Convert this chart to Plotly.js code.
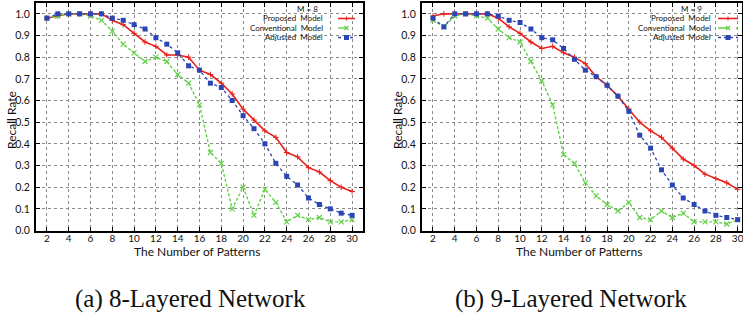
<!DOCTYPE html>
<html>
<head>
<meta charset="utf-8">
<script src="https://cdn.plot.ly/plotly-3.0.1.min.js"></script>
<style>
  html, body { margin: 0; padding: 0; background: #fff; }
  #chart { width: 743px; height: 321px; }
</style>
</head>
<body>
<div id="chart"></div>
<script>
// ---- data ----
const patterns = [2,3,4,5,6,7,8,9,10,11,12,13,14,15,16,17,18,19,20,21,22,23,24,25,26,27,28,29,30];
const xTicks = [2,4,6,8,10,12,14,16,18,20,22,24,26,28,30];
const yTicks = [0.0,0.1,0.2,0.3,0.4,0.5,0.6,0.7,0.8,0.9,1.0];
const seriesNames = ["Proposed  Model", "Conventional  Model", "Adjusted  Model"];

// (a) 8-layered network, M = 8
const proposed8     = [0.98,0.99,1.00,1.00,1.00,1.00,0.97,0.95,0.91,0.87,0.85,0.81,0.81,0.80,0.74,0.72,0.68,0.63,0.56,0.51,0.46,0.43,0.36,0.34,0.29,0.27,0.23,0.20,0.18];
const conventional8 = [0.98,0.99,1.00,1.00,0.99,0.97,0.92,0.86,0.82,0.78,0.80,0.78,0.72,0.68,0.58,0.36,0.31,0.10,0.20,0.07,0.19,0.13,0.04,0.07,0.05,0.06,0.04,0.04,0.05];
const adjusted8     = [0.98,1.00,1.00,1.00,1.00,1.00,0.98,0.97,0.95,0.93,0.89,0.86,0.82,0.76,0.74,0.68,0.66,0.60,0.53,0.47,0.40,0.31,0.25,0.21,0.15,0.12,0.10,0.08,0.07];

// (b) 9-layered network, M = 9
const proposed9     = [0.99,1.00,1.00,1.00,1.00,1.00,0.98,0.94,0.91,0.87,0.84,0.85,0.82,0.80,0.77,0.71,0.67,0.62,0.56,0.50,0.46,0.43,0.38,0.33,0.30,0.26,0.24,0.22,0.19];
const conventional9 = [0.97,0.94,0.99,1.00,0.99,0.98,0.93,0.89,0.87,0.78,0.69,0.58,0.35,0.31,0.22,0.16,0.12,0.09,0.13,0.06,0.05,0.09,0.06,0.08,0.04,0.04,0.04,0.03,0.05];
const adjusted9     = [0.98,0.94,1.00,1.00,1.00,1.00,0.99,0.97,0.96,0.93,0.89,0.88,0.84,0.79,0.74,0.71,0.67,0.62,0.55,0.44,0.38,0.28,0.21,0.15,0.12,0.09,0.07,0.06,0.05];

// ---- styles ----
const RED = "#e8201c", GREEN = "#63d147", BLUE = "#2b45b4";
const W = 743, H = 321;
const px = v => v / W;
const py = v => 1 - v / H;

function mk(y, xa, ya, kind) {
  const base = { x: patterns, y: y, xaxis: xa, yaxis: ya, mode: "lines+markers", showlegend: false, hoverinfo: "skip", cliponaxis: false };
  if (kind === 0) {
    base.line = { color: RED, width: 1.6, dash: "solid" };
    base.marker = { symbol: "cross-thin", size: 4, line: { color: RED, width: 1 }, color: RED };
  } else if (kind === 1) {
    base.line = { color: GREEN, width: 1.4, dash: "3px,2px" };
    base.marker = { symbol: "x-thin", size: 5, line: { color: GREEN, width: 1.2 }, color: GREEN };
  } else {
    base.line = { color: BLUE, width: 1.3, dash: "dot" };
    base.marker = { symbol: "square", size: 5, color: BLUE, line: { width: 0 } };
  }
  return base;
}

const traces = [
  mk(proposed8, "x", "y", 0), mk(conventional8, "x", "y", 1), mk(adjusted8, "x", "y", 2),
  mk(proposed9, "x2", "y2", 0), mk(conventional9, "x2", "y2", 1), mk(adjusted9, "x2", "y2", 2)
];

const FONT = "Lato, Open Sans, sans-serif";
const SERIF = "Times New Roman, Liberation Serif, DejaVu Serif, serif";
const yDom = [ (H - 230.5) / H, (H - 3) / H ];

function xAxis(domain, range, anchor) {
  return {
    domain: domain, range: range, anchor: anchor,
    tickmode: "array", tickvals: xTicks, ticktext: xTicks.map(String),
    ticks: "inside", ticklen: 4, tickcolor: "#000", tickwidth: 1,
    showline: true, linecolor: "#000", linewidth: 2, mirror: "allticks",
    showgrid: true, gridcolor: "#8a8a8a", griddash: "dot", gridwidth: 1,
    zeroline: false, tickfont: { family: FONT, size: 10, color: "#111" },
    ticklabelstandoff: -3, ticklabeloverflow: "allow", fixedrange: true
  };
}
function yAxis(anchor) {
  return {
    domain: yDom, range: [0, 1.05], anchor: anchor,
    tickmode: "array", tickvals: yTicks, ticktext: yTicks.map(v => v.toFixed(1)),
    ticks: "inside", ticklen: 4, tickcolor: "#000", tickwidth: 1,
    showline: true, linecolor: "#000", linewidth: 2, mirror: "allticks",
    showgrid: true, gridcolor: "#8a8a8a", griddash: "dot", gridwidth: 1,
    zeroline: false, tickfont: { family: FONT, size: 10.5, color: "#111" },
    ticklabelstandoff: 2, fixedrange: true
  };
}

const annotations = [];
const shapes = [];

function addText(text, x, y, size, xanchor, family, angle) {
  annotations.push({
    text: text, xref: "paper", yref: "paper", x: px(x), y: py(y),
    xanchor: xanchor || "center", yanchor: "middle", showarrow: false,
    textangle: angle || 0, borderpad: 0,
    font: { family: family || FONT, size: size, color: "#111" }
  });
}

// axis titles
addText("Recall Rate", 11, 120, 12, "center", FONT, -90);
addText("Recall Rate", 397, 120, 12, "center", FONT, -90);
addText("The Number of Patterns", 197, 251.5, 12);
addText("The Number of Patterns", 579, 251.5, 12);

// captions
addText("(a) 8-Layered Network", 191, 299, 25, "center", SERIF);
addText("(b) 9-Layered Network", 571, 299, 25, "center", SERIF);

// legends
function legend(title, cx, ty, textRight, rows, s0, s1) {
  addText(title, cx, ty, 8);
  const colors = [RED, GREEN, BLUE];
  const dashes = ["solid", "dash", "dot"];
  rows.forEach((ry, i) => {
    addText(seriesNames[i], textRight, ry, 8, "right");
    shapes.push({ type: "line", xref: "paper", yref: "paper",
      x0: px(s0), x1: px(s1), y0: py(ry), y1: py(ry),
      line: { color: colors[i], width: i === 0 ? 1.6 : 1.4, dash: dashes[i] } });
    const m = (s0 + s1) / 2;
    if (i === 0) {
      shapes.push({ type: "line", xref: "paper", yref: "paper", x0: px(m), x1: px(m), y0: py(ry - 2), y1: py(ry + 2), line: { color: RED, width: 1 } });
    } else if (i === 1) {
      shapes.push({ type: "line", xref: "paper", yref: "paper", x0: px(m - 2), x1: px(m + 2), y0: py(ry - 2), y1: py(ry + 2), line: { color: GREEN, width: 1.2 } });
      shapes.push({ type: "line", xref: "paper", yref: "paper", x0: px(m - 2), x1: px(m + 2), y0: py(ry + 2), y1: py(ry - 2), line: { color: GREEN, width: 1.2 } });
    } else {
      shapes.push({ type: "rect", xref: "paper", yref: "paper", x0: px(m - 2.5), x1: px(m + 2.5), y0: py(ry - 2.5), y1: py(ry + 2.5), fillcolor: BLUE, line: { width: 0 } });
    }
  });
}
legend("M = 8", 307, 9, 324, [18.5, 28, 37.5], 338, 355);
legend("M = 9", 691, 9, 712, [18.5, 28, 37.5], 718, 738);

const layout = {
  width: W, height: H,
  margin: { l: 0, r: 0, t: 0, b: 0 },
  paper_bgcolor: "#fff", plot_bgcolor: "#fff",
  showlegend: false,
  xaxis: xAxis([px(36), px(363)], [1, 31], "y"),
  yaxis: yAxis("x"),
  xaxis2: xAxis([px(422), px(742)], [0.99, 30.4], "y2"),
  yaxis2: yAxis("x2"),
  annotations: annotations,
  shapes: shapes
};

Plotly.newPlot("chart", traces, layout, { staticPlot: true, displayModeBar: false });
</script>
</body>
</html>
